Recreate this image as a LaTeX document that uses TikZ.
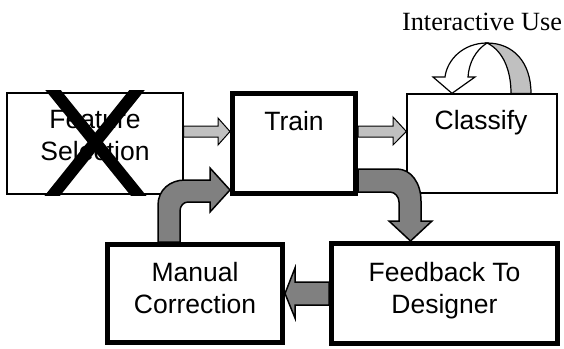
\documentclass[tikz,border=0pt]{standalone}
\usepackage{fontspec}
\setmainfont{Liberation Serif}
\setsansfont{Liberation Sans}
\definecolor{arrowlight}{HTML}{C0C0C0}
\definecolor{arrowdark}{HTML}{808080}
\begin{document}
\begin{tikzpicture}[x=1pt,y=-1pt,
  thinbox/.style={draw, line width=1.3pt, fill=white, inner sep=0pt},
  thickbox/.style={draw, line width=5pt, fill=white, inner sep=0pt},
  lbl/.style={font=\sffamily\fontsize{26.5}{32}\selectfont, align=center, anchor=north, inner sep=0pt},
  lightarrow/.style={draw, line width=1pt, fill=arrowlight, line join=miter},
  darkarrow/.style={draw, line width=1.5pt, fill=arrowdark, line join=miter},
  loopfront/.style={draw, line width=1.2pt, fill=white, line join=miter},
  loopback/.style={draw, line width=1.2pt, fill=arrowlight},
  cross/.style={line width=12pt, line cap=butt}]
\useasboundingbox (0,0) rectangle (564,348);

% boxes
\node[thinbox, minimum width=176pt, minimum height=101pt] (fs) at (95,143.5) {};
\node[thickbox, minimum width=123pt, minimum height=100pt] (train) at (294,143.5) {};
\node[thinbox, minimum width=150pt, minimum height=99pt] (cls) at (482,143.5) {};
\node[thickbox, minimum width=175pt, minimum height=98pt] (man) at (195,293.5) {};
\node[thickbox, minimum width=226pt, minimum height=100pt] (fb) at (444.5,293.5) {};

% labels
\node[lbl] (fstext) at (95,110) {Feature\\Selection};
\node[lbl] (traintext) at (294,111) {Train};
\node[lbl] (clstext) at (481,110) {Classify};
\node[lbl] (mantext) at (195,262) {Manual\\Correction};
\node[lbl] (fbtext) at (444.5,262) {Feedback To\\Designer};
\node[font=\fontsize{26.3}{30}\selectfont, anchor=base, inner sep=0pt] (iu) at (482,30) {Interactive Use};

% cross over Feature Selection
\begin{scope}
  \clip (0,90) rectangle (200,195);
  \draw[cross] (44.5,79.5) -- (146.5,205.5);
  \draw[cross] (145.5,79.5) -- (44.5,205.5);
\end{scope}

% light straight arrows
\draw[lightarrow] (fs.east |- 0,126) -- (218,126) -- (218,118) -- (train.west |- 0,131.5)
  -- (218,145) -- (218,137) -- (fs.east |- 0,137) -- cycle;
\draw[lightarrow] (train.east |- 0,126) -- (393,126) -- (393,117) -- (cls.west |- 0,131.5)
  -- (393,145) -- (393,137) -- (train.east |- 0,137) -- cycle;

% Train -> Feedback (bent)
\draw[darkarrow] (train.east |- 0,169) -- (397,169) .. controls (411,169) and (421,183) .. (421,201)
  -- (421,221) -- (432,221) -- (410.5,0 |- fb.north) -- (389,221) -- (399,221) -- (399,202)
  .. controls (399,197) and (395,192) .. (390,192) -- (train.east |- 0,192) -- cycle;

% Manual -> Train (bent)
\draw[darkarrow] (158,0 |- man.north) -- (158,205) .. controls (158,190) and (170,180) .. (185,180)
  -- (210,180) -- (210,168) -- (train.west |- 0,190) -- (210,212) -- (210,202) -- (188,202)
  .. controls (183.5,202) and (180,206) .. (180,211) -- (180,0 |- man.north) -- cycle;

% Feedback -> Manual
\draw[darkarrow] (fb.west |- 0,282) -- (295,282) -- (295,268) -- (man.east |- 0,293.5)
  -- (295,318) -- (295,305) -- (fb.west |- 0,305) -- cycle;

% interactive use loop
\draw[loopback] (487,43) .. controls (513,43) and (531,62) .. (531,0 |- cls.north)
  -- (511,0 |- cls.north) .. controls (511,70) and (503,52) .. (489,44) -- cycle;
\draw[loopfront] (433,77) -- (445,77) .. controls (447,60) and (463,43) .. (487,43)
  .. controls (476,50) and (469,62) .. (468,77) -- (475,77) -- (452,0 |- cls.north) -- cycle;
\end{tikzpicture}
\end{document}
